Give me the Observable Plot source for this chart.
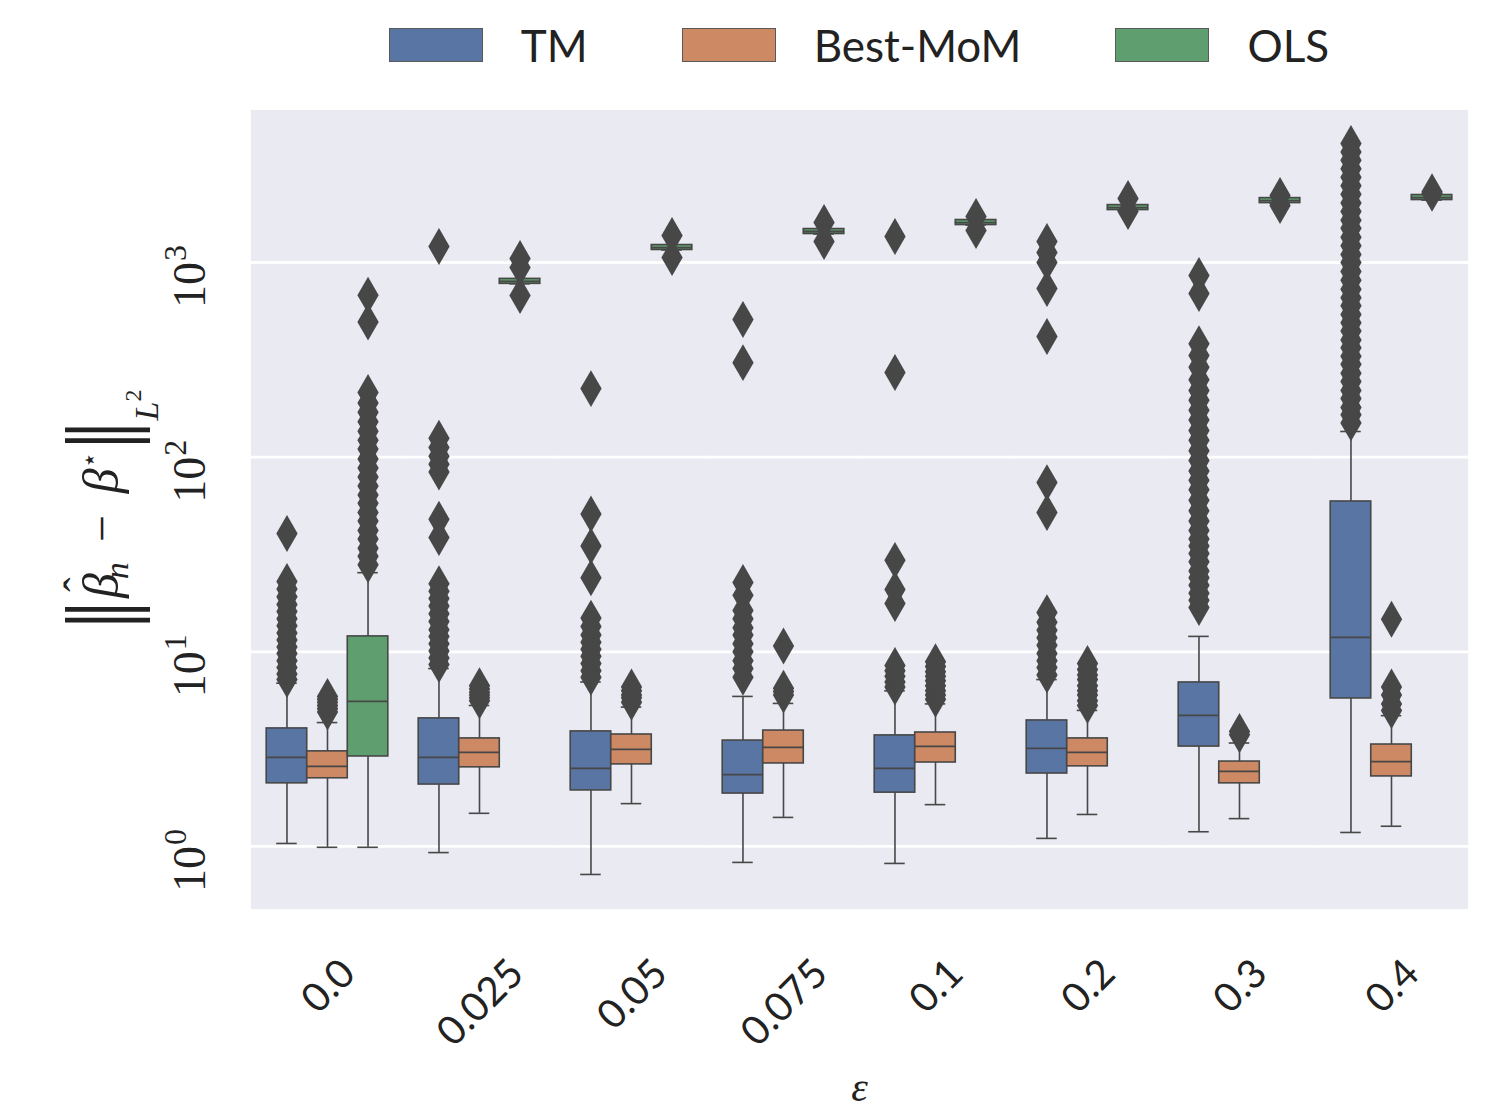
<!DOCTYPE html>
<html>
<head>
<meta charset="utf-8">
<script src="https://cdn.jsdelivr.net/npm/d3@7"></script>
<script src="https://cdn.jsdelivr.net/npm/@observablehq/plot@0.6"></script>
<style>
  html, body { margin: 0; padding: 0; background: #fff; }
  body { width: 1490px; height: 1108px; overflow: hidden; font-family: Lato, "Open Sans", sans-serif; }
  #legend { position: relative; height: 90px; width: 1490px; }
  #legend .inner { position: absolute; left: 251px; width: 1216px; top: 0; height: 90px;
    display: flex; justify-content: center; align-items: center; }
  #legend .item { display: flex; align-items: center; }
  #legend .item + .item { margin-left: 94px; }
  #legend .sw { width: 92px; height: 32px; border: 1.5px solid #5a5a5a; box-sizing: content-box; }
  #legend .lab { margin-left: 38px; font-size: 44px; color: #222; line-height: 1; }
  #chart svg { display: block; }
</style>
</head>
<body>
<div id="legend"><div class="inner"></div></div>
<div id="chart"></div>
<script>
// ---------- data ----------
const epsilons = ["0.0", "0.025", "0.05", "0.075", "0.1", "0.2", "0.3", "0.4"];
const methods = ["TM", "Best-MoM", "OLS"];
const methodColors = ["#5975a4", "#cc8963", "#5f9e6e"];

const yTickValues = [1, 10, 100, 1000];
const yTickBase = "10";
const yTickExponents = ["0", "1", "2", "3"];

// TM
const tmQ1  = [2.11, 2.08, 1.94, 1.87, 1.89, 2.37, 3.26, 5.76];
const tmMed = [2.87, 2.87, 2.52, 2.34, 2.52, 3.19, 4.71, 11.85];
const tmQ3  = [4.04, 4.55, 3.90, 3.50, 3.72, 4.44, 6.96, 59.2];
const tmLo  = [1.036, 0.93, 0.718, 0.828, 0.818, 1.10, 1.19, 1.18];
const tmHi  = [6.9, 8.2, 7.0, 5.9, 6.3, 7.2, 12.0, 135.5];
const tmOut = [
  [7.2, 7.7, 8.3, 9.0, 9.8, 10.6, 11.5, 12.5, 13.6, 14.8, 16.1, 17.5, 19.2, 21.0, 23.0, 40.5],
  [8.6, 9.3, 10.1, 11, 12, 13, 14.3, 15.7, 17.2, 18.8, 20.5, 22.4, 38.7, 48, 84, 92, 101, 112, 125, 1208],
  [7.4, 8.0, 8.7, 9.5, 10.3, 11.2, 12.2, 13.5, 14.9, 24, 35, 51, 225],
  [7.4, 8.2, 9.0, 10.0, 11.0, 12.2, 13.3, 14.8, 16.3, 19.5, 22.7, 306, 510],
  [6.6, 7.0, 7.5, 8.0, 8.5, 17.7, 20.9, 29.5, 272, 1360],
  [7.6, 8.3, 9.0, 9.8, 10.8, 11.8, 12.9, 14.2, 15.9, 52, 74, 417, 735, 1000, 1125, 1282],
  [16.9, 18.4, 20, 22, 24, 26, 29, 32, 35, 38, 42, 47, 53, 60, 68, 76, 85, 96, 108, 122, 137, 155, 174, 196, 220, 250, 290, 333, 383, 693, 857],
  [150, 165, 180, 200, 220, 245, 270, 300, 330, 365, 400, 445, 490, 540, 600, 660, 730, 810, 900, 1000, 1100, 1220, 1350, 1500, 1650, 1830, 2020, 2240, 2480, 2740, 3030, 3350, 3700, 4085]
];

// Best-MoM
const momQ1  = [2.24, 2.55, 2.64, 2.67, 2.70, 2.58, 2.11, 2.29];
const momMed = [2.58, 3.04, 3.15, 3.23, 3.27, 3.04, 2.43, 2.73];
const momQ3  = [3.08, 3.59, 3.76, 3.94, 3.85, 3.59, 2.73, 3.34];
const momLo  = [0.99, 1.48, 1.66, 1.41, 1.64, 1.46, 1.39, 1.27];
const momHi  = [4.33, 5.3, 5.2, 5.43, 5.4, 5.0, 3.4, 4.7];
const momOut = [
  [4.9, 5.1, 5.3, 5.5, 5.7, 5.9],
  [5.6, 5.8, 6.0, 6.2, 6.45, 6.7],
  [5.5, 5.8, 6.0, 6.3, 6.6],
  [6.0, 6.25, 6.5, 10.7],
  [5.7, 6.0, 6.3, 6.7, 7.1, 7.5, 7.9, 8.4, 8.9],
  [5.3, 5.6, 6.0, 6.3, 6.7, 7.2, 7.6, 8.1, 8.7],
  [3.75, 3.9],
  [5.0, 5.4, 6.0, 6.6, 14.7]
];

// OLS
const olsQ1  = [2.90, 777, 1160, 1401, 1558, 1860, 2020, 2094];
const olsMed = [5.56, 800, 1194, 1443, 1605, 1916, 2081, 2157];
const olsQ3  = [12.0, 824, 1230, 1486, 1653, 1973, 2143, 2222];
const olsLo  = [0.99, 777, 1160, 1401, 1558, 1860, 2020, 2094];
const olsHi  = [25.5, 824, 1230, 1486, 1653, 1973, 2143, 2222];
const olsOut = [
  [28, 31, 34, 38, 42, 47, 52, 58, 64, 71, 79, 88, 98, 110, 122, 136, 152, 170, 190, 215, 495, 680],
  [677, 943, 1048],
  [1061, 1376],
  [1282, 1604],
  [1460, 1722],
  [1828, 2132],
  [1962, 2208],
  [2270, 2310]
];

// ---------- tables built from the arrays ----------
const series = [
  {m: "TM", q1: tmQ1, med: tmMed, q3: tmQ3, lo: tmLo, hi: tmHi, out: tmOut},
  {m: "Best-MoM", q1: momQ1, med: momMed, q3: momQ3, lo: momLo, hi: momHi, out: momOut},
  {m: "OLS", q1: olsQ1, med: olsMed, q3: olsQ3, lo: olsLo, hi: olsHi, out: olsOut}
];
const boxes = [];
const fliers = [];
for (const s of series) {
  epsilons.forEach((e, i) => {
    boxes.push({eps: e, method: s.m, q1: s.q1[i], med: s.med[i], q3: s.q3[i], lo: s.lo[i], hi: s.hi[i]});
    for (const v of s.out[i]) fliers.push({eps: e, method: s.m, value: v});
  });
}

// ---------- legend (HTML, above the SVG) ----------
const inner = d3.select("#legend .inner");
methods.forEach((m, i) => {
  const it = inner.append("div").attr("class", "item");
  it.append("div").attr("class", "sw").style("background", methodColors[i]);
  it.append("div").attr("class", "lab").text(m);
});

// ---------- chart ----------
const gray = "#474747";
const bg = "#eaeaf2";
const W = 1490, H = 1018;
const mL = 251, mR = 23, mT = 20, mB = 200;

const chart = Plot.plot({
  width: W, height: H,
  marginLeft: mL, marginRight: mR, marginTop: mT, marginBottom: mB,
  style: {fontFamily: "Lato, 'Open Sans', sans-serif", fontSize: "40px", color: "#222", background: "transparent", overflow: "visible"},
  fx: {domain: epsilons, padding: 0, round: true, label: "ε"},
  x: {domain: methods, paddingInner: 0, paddingOuter: 0.375, round: false, axis: null},
  y: {type: "log", domain: [0.48, 6040]},
  color: {domain: methods, range: methodColors},
  marks: [
    Plot.frame({fill: bg, stroke: bg, strokeWidth: 1.2}),
    Plot.ruleY(yTickValues, {stroke: "white", strokeWidth: 2.8, insetLeft: -1, insetRight: -1}),
    Plot.axisY({
      ticks: yTickValues,
      tickFormat: (d) => yTickBase + yTickExponents[yTickValues.indexOf(d)],
      tickSize: 0, tickPadding: 0, tickRotate: -90,
      label: "‖β̂ₙ − β⋆‖L²", labelAnchor: "center", labelOffset: 134
    }),
    Plot.axisFx({
      anchor: "bottom", tickSize: 0, tickPadding: 0, tickRotate: -45,
      label: "ε", labelAnchor: "center", labelOffset: 192
    }),
    Plot.ruleX(boxes, {fx: "eps", x: "method", y1: "lo", y2: "q1", stroke: gray, strokeWidth: 1.6}),
    Plot.ruleX(boxes, {fx: "eps", x: "method", y1: "q3", y2: "hi", stroke: gray, strokeWidth: 1.6}),
    Plot.tickY(boxes, {fx: "eps", x: "method", y: "lo", stroke: gray, strokeWidth: 1.6, insetLeft: 10, insetRight: 10}),
    Plot.tickY(boxes, {fx: "eps", x: "method", y: "hi", stroke: gray, strokeWidth: 1.6, insetLeft: 10, insetRight: 10}),
    Plot.barY(boxes, {fx: "eps", x: "method", y1: "q1", y2: "q3", fill: "method", stroke: gray, strokeWidth: 1.6, inset: 0}),
    Plot.tickY(boxes, {fx: "eps", x: "method", y: "med", stroke: gray, strokeWidth: 1.8}),
    Plot.dot(fliers, {fx: "eps", x: "method", y: "value", symbol: "diamond", r: 11.2, fill: gray, stroke: null})
  ]
});
document.getElementById("chart").append(chart);

// ---------- text styling to match the reference ----------
const svg = d3.select(chart);
const parseT = (t) => {
  const m = /translate\(\s*([-\d.e]+)[ ,]+([-\d.e]+)\s*\)/.exec(t || "");
  return m ? [+m[1], +m[2]] : [0, 0];
};
const yRange = chart.scale("y").range; // [bottom, top]
const frameBottom = Math.max(...yRange);

// fx tick labels: rotated 45°, centred on the tick, tops aligned
svg.selectAll('g[aria-label="fx-axis tick label"] text').each(function () {
  const el = d3.select(this);
  el.style("font-family", "Lato, 'Open Sans', sans-serif").style("font-size", "40px").style("fill", "#222");
  const [x] = parseT(el.attr("transform"));
  const L = this.getComputedTextLength();
  const ext = (L + 0.72 * 40) * Math.SQRT1_2;
  el.attr("text-anchor", "middle").attr("y", null).attr("dy", "0.36em")
    .attr("transform", `translate(${x},${frameBottom + 47 + ext / 2}) rotate(-90 + 45)`.replace("-90 + 45", "-45"));
});

// y tick labels: serif, rotated 90°, 10 with raised exponent
svg.selectAll('g[aria-label="y-axis tick label"] text').each(function () {
  const el = d3.select(this);
  const [x, y] = parseT(el.attr("transform"));
  const label = el.text();
  const base = label.slice(0, yTickBase.length);
  const exp = label.slice(yTickBase.length);
  el.text(null)
    .style("font-family", "'Liberation Serif', 'DejaVu Serif', serif").style("font-size", "46px").style("fill", "#222")
    .attr("text-anchor", "middle").attr("y", null).attr("dy", null)
    .attr("transform", `translate(${x - 47},${y + 14}) rotate(-90)`);
  el.append("tspan").text(base);
  el.append("tspan").text(exp).attr("dy", -19).attr("dx", 1).style("font-size", "32px");
});

// y label with hat, sub- and superscripts (norm bars drawn as thin double bars)
svg.selectAll('g[aria-label="y-axis label"] text').each(function () {
  const el = d3.select(this);
  el.text(null).attr("text-anchor", "middle").attr("y", null).attr("dy", null)
    .style("font-family", "'Liberation Serif', 'DejaVu Serif', serif").style("font-size", "48px").style("fill", "#222");
  const parts = [
    {t: "||", size: 94, style: "normal", dy: 12, ls: -8},
    {t: "β", size: 50, style: "italic", dy: -12, dx: 10},
    {t: "ˆ", size: 44, style: "normal", dy: -24, dx: -19},
    {t: "n", size: 34, style: "italic", dy: 34, dx: -2},
    {t: "−", size: 48, style: "normal", dy: -10, dx: 20},
    {t: "β", size: 50, style: "italic", dy: 0, dx: 22},
    {t: "⋆", size: 26, style: "normal", dy: -20, fam: "'DejaVu Sans', sans-serif"},
    {t: "||", size: 94, style: "normal", dy: 32, ls: -8, dx: 2},
    {t: "L", size: 34, style: "italic", dy: 28, dx: 8},
    {t: "2", size: 24, style: "normal", dy: -17}
  ];
  for (const p of parts) {
    const ts = el.append("tspan").text(p.t).attr("dy", p.dy)
      .style("font-size", p.size + "px").style("font-style", p.style);
    if (p.dx) ts.attr("dx", p.dx);
    if (p.ls) ts.style("letter-spacing", p.ls + "px");
    if (p.fam) ts.style("font-family", p.fam);
  }
});

// x label ε
svg.selectAll('g[aria-label="fx-axis label"] text').each(function () {
  d3.select(this).style("font-family", "'Liberation Serif', 'DejaVu Serif', serif")
    .style("font-style", "italic").style("font-size", "42px").style("fill", "#222");
});
</script>
</body>
</html>
